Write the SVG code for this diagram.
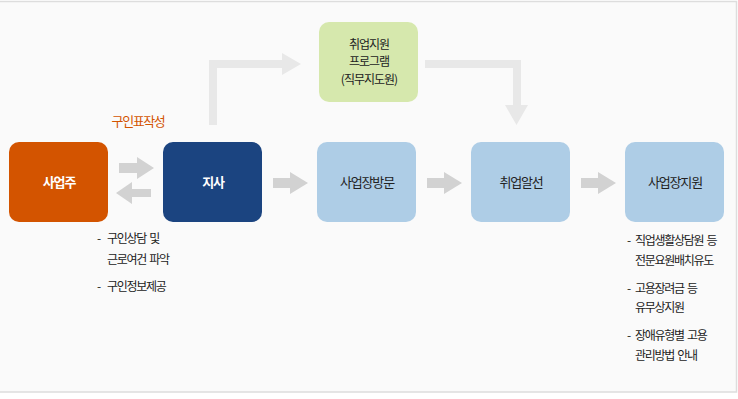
<svg xmlns="http://www.w3.org/2000/svg" width="738" height="399" viewBox="0 0 738 399">
<style>
.lbl{font-family:"Noto Sans CJK KR","Noto Sans",sans-serif;font-size:13px;letter-spacing:-1.2px;text-anchor:middle}
.w{fill:#ffffff;font-weight:bold}
.d{fill:#222222}
.sm{font-family:"Noto Sans CJK KR","Noto Sans",sans-serif;font-size:12px;letter-spacing:-1.3px;word-spacing:2px;fill:#222222}
.gt{font-family:"Noto Sans CJK KR","Noto Sans",sans-serif;font-size:12px;letter-spacing:-1px;fill:#222222;text-anchor:middle}
.ar{fill:#d2d2d2}
.ae{fill:#e8e8e8}
</style>
<rect x="-1" y="1.5" width="737.5" height="390.5" fill="#fafafa" stroke="#dddddd" stroke-width="1.5"/>
<g id="connectors">
<polygon class="ar" points="119,163 137,163 137,157 154,168 137,179 137,173 119,173"/>
<polygon class="ar" points="151,189 132,189 132,182 116,193 132,204 132,197 151,197"/>
<polygon class="ar" points="273,178 290,178 290,172 308,183 290,194 290,188 273,188"/>
<polygon class="ar" points="427,178 444,178 444,172 462,183 444,194 444,188 427,188"/>
<polygon class="ar" points="581,178 598,178 598,172 616,183 598,194 598,188 581,188"/>
<polygon class="ae" points="209,125 209,60 282,60 282,53 301,64 282,75 282,68 217,68 217,125"/>
<polygon class="ae" points="425,60 521,60 521,105 528,105 516.5,125 505,105 513,105 513,68 425,68"/>
<text x="138" y="126" style="font-family:'Noto Sans CJK KR','Noto Sans',sans-serif;font-size:13px;letter-spacing:-1.4px;fill:#d35400;text-anchor:middle">구인표작성</text>
</g>
<g id="n-employer">
<rect x="9" y="142" width="99" height="80" rx="10" fill="#d35400"/>
<text class="lbl w" x="59" y="187">사업주</text>
</g>
<g id="n-branch">
<rect x="163" y="142" width="99" height="80" rx="10" fill="#1b4480"/>
<text class="lbl w" x="213" y="187">지사</text>
</g>
<g id="n-visit">
<rect x="317" y="142" width="99" height="80" rx="10" fill="#aecde6"/>
<text class="lbl d" x="367" y="187">사업장방문</text>
</g>
<g id="n-placement">
<rect x="471" y="142" width="99" height="80" rx="10" fill="#aecde6"/>
<text class="lbl d" x="521" y="187">취업알선</text>
</g>
<g id="n-support">
<rect x="625" y="142" width="99" height="80" rx="10" fill="#aecde6"/>
<text class="lbl d" x="675" y="187">사업장지원</text>
</g>
<g id="n-program">
<rect x="319" y="22" width="99" height="80" rx="10" fill="#d6e8ad"/>
<text class="gt" x="369" y="48.5">취업지원</text>
<text class="gt" x="369" y="66">프로그램</text>
<text class="gt" x="369" y="84">(직무지도원)</text>
</g>
<g id="notes-left">
<text class="sm" x="97" y="243">-</text>
<text class="sm" x="107" y="243">구인상담 및</text>
<text class="sm" x="107" y="263.5">근로여건 파악</text>
<text class="sm" x="97" y="290.5">-</text>
<text class="sm" x="107" y="290.5">구인정보제공</text>
</g>
<g id="notes-right">
<text class="sm" x="627" y="245">-</text>
<text class="sm" x="635" y="245">직업생활상담원 등</text>
<text class="sm" x="635" y="264.5">전문요원배치유도</text>
<text class="sm" x="627" y="292.5">-</text>
<text class="sm" x="635" y="292.5">고용장려금 등</text>
<text class="sm" x="635" y="311.5">유무상지원</text>
<text class="sm" x="627" y="339.5">-</text>
<text class="sm" x="635" y="339.5">장애유형별 고용</text>
<text class="sm" x="635" y="359.5">관리방법 안내</text>
</g>
</svg>
